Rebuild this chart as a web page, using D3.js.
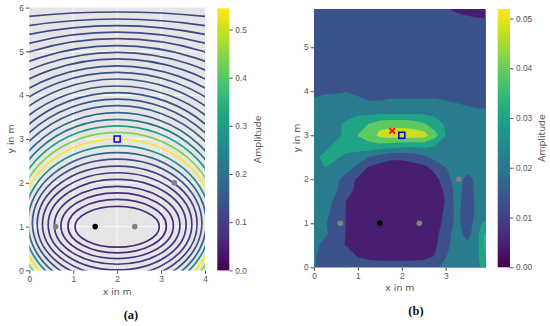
<!DOCTYPE html>
<html>
<head>
<meta charset="utf-8">
<script src="https://cdn.jsdelivr.net/npm/d3@7"></script>
<style>
  body { margin: 0; background: #fff; }
  svg { display: block; font-family: "DejaVu Sans", sans-serif; }
  .axis .domain { display: none; }
  .axis line { stroke: #555; }
  .axis text { fill: #555; font-size: 8.3px; }
  .label { fill: #555; font-size: 9.3px; }
  .caption { fill: #111; font-family: "Liberation Serif", "DejaVu Serif", serif; font-weight: bold; font-size: 12.5px; }
</style>
</head>
<body>
<svg id="chart" width="550" height="326"></svg>
<script>
// ---- panel (a): modelled amplitude, one ring per contour line ----
// y where each ring crosses x = 2 (above and below its centre), and its half width
const ringTop = [1.46, 1.62, 1.77, 1.92, 2.08, 2.23, 2.38, 2.54, 2.69, 2.85,
  3.00, 3.15, 3.30, 3.45, 3.60, 3.76, 3.91, 4.06, 4.21, 4.37,
  4.52, 4.67, 4.83, 4.98, 5.13, 5.29, 5.44, 5.59, 5.74, 5.90];
const ringBottom = [0.53, 0.40, 0.27, 0.14, 0.01, -0.12, -0.25, -0.38, -0.51, -0.64,
  -0.77, -0.90, -1.03, -1.16, -1.29, -1.42, -1.55, -1.68, -1.81, -1.94,
  -2.07, -2.20, -2.33, -2.46, -2.59, -2.72, -2.85, -2.98, -3.11, -3.24];
const ringHalfWidth = [0.96, 1.12, 1.28, 1.43, 1.57, 1.70, 1.82, 1.93, 2.03, 2.12,
  2.21, 2.30, 2.40, 2.51, 2.62, 2.75, 2.88, 3.03, 3.20, 3.38,
  3.59, 3.82, 4.09, 4.41, 4.77, 5.24, 5.82, 6.58, 7.71, 9.58];
const ringAmp = [0.070, 0.072, 0.075, 0.078, 0.083, 0.090, 0.105, 0.130, 0.170, 0.260,
  0.540, 0.440, 0.300, 0.210, 0.170, 0.155, 0.145, 0.140, 0.138, 0.136,
  0.134, 0.132, 0.130, 0.128, 0.126, 0.124, 0.122, 0.120, 0.118, 0.116];
const ringCenterX = 2;
const ampMaxA = 0.544;
const cbTicksA = [0, 0.1, 0.2, 0.3, 0.4, 0.5];

// ---- panel (b): measured amplitude on a 0.25 m grid, values in 1e-3 ----
// rows from y = 6 (top) down to y = 0, columns x = 0 .. 4
const gridStep = 0.25;
const measuredRows = [
  [13,13,13,13,13,13,13,13,13,13,13,12, 7, 6, 6, 6, 6],
  [13,13,13,13,13,13,13,13,13,13,13,13,12, 9, 8, 7, 7],
  [13,13,13,13,13,13,13,13,13,13,13,13,13,13,13,12,12],
  [13,13,13,13,13,13,13,13,13,13,13,13,13,13,13,13,13],
  [13,13,13,13,13,13,13,13,13,13,13,13,13,13,13,13,13],
  [13,13,13,13,13,13,13,13,13,13,13,13,13,13,13,13,13],
  [13,13,13,13,13,13,13,13,13,13,13,13,13,13,13,13,13],
  [14,14,14,15,14,14,14,14,14,14,14,14,14,14,14,14,14],
  [14,16,16,17,16,14,14,14,14,14,14,14,14,14,14,14,14],
  [20,21,22,22,19,18,18,19,19,19,19,19,18,17,15,14,14],
  [23,23,24,24,25,24,25,25,25,25,25,24,23,22,22,20,20],
  [22,23,25,27,30,35,40,41,41,40,36,30,25,23,23,22,22],
  [22,23,25,27,35,38,46,48,48,48,47,38,26,24,23,22,22],
  [23,25,27,29,31,32,31,29,28,27,28,26,24,23,22,22,23],
  [25,27,27,24,21,17,13,10,10,12,15,20,23,22,22,22,23],
  [25,26,23,20,15, 7, 5, 5, 5, 5, 6,11,17,21,21,22,24],
  [24,22,19,14, 7, 5, 3, 3, 3, 3, 3, 6,13,22,14,21,24],
  [23,21,18,12, 6, 3, 3, 3, 3, 3, 3, 5,10,21,13,21,24],
  [22,20,16, 8, 5, 3, 3, 3, 3, 3, 3, 5, 9,21,12,21,23],
  [22,19,15, 8, 5, 3, 3, 3, 3, 3, 3, 5,10,20,12,21,24],
  [23,18,14, 8, 5, 3, 3, 3, 3, 3, 3, 5,11,20,12,24,31],
  [22,19,13, 8, 6, 4, 3, 3, 3, 3, 4, 6,14,21,14,26,42],
  [20,14,11, 8, 7, 5, 3, 3, 3, 3, 5, 7,15,21,20,26,42],
  [19,12,12,14, 8, 6, 5, 5, 5, 5, 6, 9,17,21,22,26,40],
  [18,14,16,18,15,14,14,14,14,14,14,16,19,21,22,25,34]
];
const bandLevels = [0, 8.67, 17.33, 26, 34.67, 43.33, 52];
const ampMaxB = 0.052;
const cbTicksB = [0, 0.01, 0.02, 0.03, 0.04, 0.05];

// ---- markers (same room in both panels) ----
const micX = [0.6, 2.4, 3.3];
const micY = [1, 1, 2];
const refMic = [1.5, 1];
const source = [2, 3];
const estimate = [1.78, 3.1];

const svg = d3.select("#chart");

// scales
const xA = d3.scaleLinear().domain([0, 4]).range([29.3, 205]);
const yA = d3.scaleLinear().domain([0, 6]).range([270.4, 7.6]);
const cbA = d3.scaleLinear().domain([0, ampMaxA]).range([270.4, 8.3]);
const xB = d3.scaleLinear().domain([0, 3.91]).range([314, 485.7]);
const yB = d3.scaleLinear().domain([0, 5.87]).range([267.3, 9]);
const cbB = d3.scaleLinear().domain([0, 0.0519]).range([267.3, 9]);

const defs = svg.append("defs");
defs.append("clipPath").attr("id", "clipA").append("rect")
  .attr("x", xA(0)).attr("y", yA(6))
  .attr("width", xA(4) - xA(0)).attr("height", yA(0) - yA(6));
defs.append("clipPath").attr("id", "clipB").append("rect")
  .attr("x", xB(0)).attr("y", yB(5.87))
  .attr("width", xB(3.91) - xB(0)).attr("height", yB(0) - yB(5.87));

const grad = defs.append("linearGradient").attr("id", "viridis")
  .attr("x1", 0).attr("y1", 1).attr("x2", 0).attr("y2", 0);
d3.range(0, 1.0001, 0.05).forEach(t => {
  grad.append("stop").attr("offset", t).attr("stop-color", d3.interpolateViridis(t));
});

const intFmt = d3.format("d");

// ---------- panel (a) ----------
const gA = svg.append("g");
gA.append("rect")
  .attr("x", xA(0)).attr("y", yA(6))
  .attr("width", xA(4) - xA(0)).attr("height", yA(0) - yA(6))
  .attr("fill", "#e5e5e5");

gA.append("g").selectAll("line").data([1, 2, 3]).join("line")
  .attr("x1", d => xA(d)).attr("x2", d => xA(d))
  .attr("y1", yA(0)).attr("y2", yA(6))
  .attr("stroke", "#fff").attr("stroke-width", 0.8);
gA.append("g").selectAll("line").data([1, 2, 3, 4, 5]).join("line")
  .attr("y1", d => yA(d)).attr("y2", d => yA(d))
  .attr("x1", xA(0)).attr("x2", xA(4))
  .attr("stroke", "#fff").attr("stroke-width", 0.8);

gA.append("g").attr("clip-path", "url(#clipA)")
  .selectAll("ellipse").data(d3.range(ringTop.length)).join("ellipse")
  .attr("cx", xA(ringCenterX))
  .attr("cy", k => yA((ringTop[k] + ringBottom[k]) / 2))
  .attr("rx", k => xA(ringHalfWidth[k]) - xA(0))
  .attr("ry", k => yA(0) - yA((ringTop[k] - ringBottom[k]) / 2))
  .attr("fill", "none")
  .attr("stroke", k => d3.interpolateViridis(ringAmp[k] / ampMaxA))
  .attr("stroke-width", 1.7);

gA.append("g").attr("class", "axis")
  .attr("transform", `translate(0,${yA(0)})`)
  .call(d3.axisBottom(xA).tickValues([0, 1, 2, 3, 4]).tickFormat(intFmt).tickSize(3.5).tickPadding(2));
gA.append("g").attr("class", "axis")
  .attr("transform", `translate(${xA(0)},0)`)
  .call(d3.axisLeft(yA).tickValues([0, 1, 2, 3, 4, 5, 6]).tickFormat(intFmt).tickSize(3.5).tickPadding(2));

// ---------- panel (b) ----------
const gB = svg.append("g");
const nx = measuredRows[0].length, ny = measuredRows.length;
const values = measuredRows.slice().reverse().flat(); // row 0 -> y = 0
const bands = d3.contours().size([nx, ny]).thresholds(bandLevels.slice(0, -1))(values);
const toScreen = d3.geoTransform({
  point: function (gx, gy) {
    this.stream.point(xB((gx - 0.5) * gridStep), yB((gy - 0.5) * gridStep));
  }
});
const bandPath = d3.geoPath(toScreen);

gB.append("g").attr("clip-path", "url(#clipB)")
  .selectAll("path").data(bands).join("path")
  .attr("d", bandPath)
  .attr("fill", (d, i) => d3.interpolateViridis(((bandLevels[i] + bandLevels[i + 1]) / 2) / 1000 / ampMaxB));

gB.append("g").attr("class", "axis")
  .attr("transform", `translate(0,${yB(0)})`)
  .call(d3.axisBottom(xB).tickValues([0, 1, 2, 3]).tickFormat(intFmt).tickSize(3.5).tickPadding(2));
gB.append("g").attr("class", "axis")
  .attr("transform", `translate(${xB(0)},0)`)
  .call(d3.axisLeft(yB).tickValues([0, 1, 2, 3, 4, 5]).tickFormat(intFmt).tickSize(3.5).tickPadding(2));

// ---------- markers ----------
function drawMarkers(g, x, y, withEstimate) {
  g.append("g").selectAll("circle").data(micX).join("circle")
    .attr("cx", (d, i) => x(d)).attr("cy", (d, i) => y(micY[i]))
    .attr("r", 2.8).attr("fill", "#808080");
  g.append("circle").attr("cx", x(refMic[0])).attr("cy", y(refMic[1]))
    .attr("r", 2.8).attr("fill", "#000");
  if (withEstimate) {
    const s = 2.8;
    g.append("path")
      .attr("d", `M${x(estimate[0]) - s},${y(estimate[1]) - s}L${x(estimate[0]) + s},${y(estimate[1]) + s}` +
                 `M${x(estimate[0]) - s},${y(estimate[1]) + s}L${x(estimate[0]) + s},${y(estimate[1]) - s}`)
      .attr("stroke", "#f00").attr("stroke-width", 1.8);
  }
  g.append("rect")
    .attr("x", x(source[0]) - 3).attr("y", y(source[1]) - 3)
    .attr("width", 6).attr("height", 6)
    .attr("fill", "none").attr("stroke", "#00f").attr("stroke-width", 1.5);
}
drawMarkers(gA, xA, yA, false);
drawMarkers(gB, xB, yB, true);

// ---------- colour bars ----------
function colorbar(x0, width, scale, ticks, fmt) {
  const g = svg.append("g");
  g.append("rect")
    .attr("x", x0).attr("y", scale.range()[1])
    .attr("width", width).attr("height", scale.range()[0] - scale.range()[1])
    .attr("fill", "url(#viridis)");
  g.append("g").attr("class", "axis")
    .attr("transform", `translate(${x0 + width},0)`)
    .call(d3.axisRight(scale).tickValues(ticks).tickFormat(d3.format(fmt)).tickSize(3.5).tickPadding(2.5));
}
colorbar(217.3, 12, cbA, cbTicksA, ".1f");
colorbar(497.7, 12.3, cbB, cbTicksB, ".2f");

// ---------- labels ----------
svg.append("text").attr("class", "label").attr("text-anchor", "middle")
  .attr("x", xA(2)).attr("y", 295).text("x in m");
svg.append("text").attr("class", "label").attr("text-anchor", "middle")
  .attr("x", (xB(0) + xB(3.91)) / 2).attr("y", 291).text("x in m");
svg.append("text").attr("class", "label").attr("text-anchor", "middle")
  .attr("transform", `translate(13.5,${(yA(0) + yA(6)) / 2}) rotate(-90)`).text("y in m");
svg.append("text").attr("class", "label").attr("text-anchor", "middle")
  .attr("transform", `translate(299.5,${(yB(0) + yB(5.87)) / 2}) rotate(-90)`).text("y in m");
svg.append("text").attr("class", "label").attr("text-anchor", "middle")
  .attr("transform", `translate(260.5,${(cbA.range()[0] + cbA.range()[1]) / 2}) rotate(-90)`).text("Amplitude");
svg.append("text").attr("class", "label").attr("text-anchor", "middle")
  .attr("transform", `translate(545,${(cbB.range()[0] + cbB.range()[1]) / 2}) rotate(-90)`).text("Amplitude");

svg.append("text").attr("class", "caption").attr("text-anchor", "middle")
  .attr("x", 131).attr("y", 318.5).text("(a)");
svg.append("text").attr("class", "caption").attr("text-anchor", "middle")
  .attr("x", 416).attr("y", 315).text("(b)");
</script>
</body>
</html>
